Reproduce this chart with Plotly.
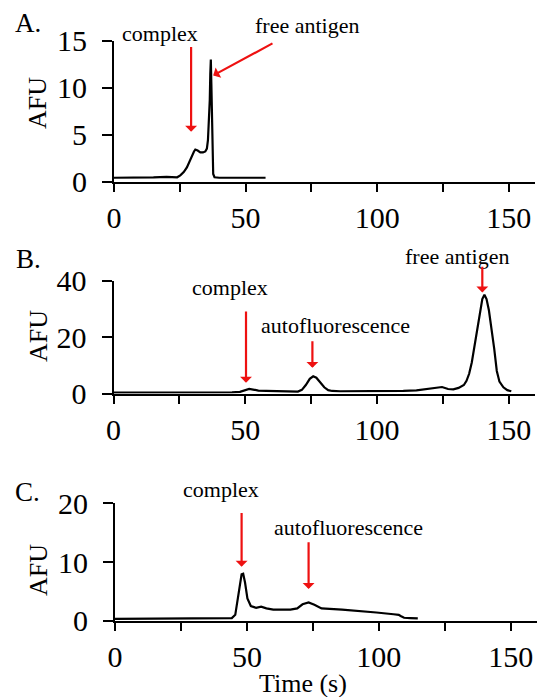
import plotly.graph_objects as go

# ---- Electropherogram traces (time in s, fluorescence in AFU) ----
time_a = [0, 5, 10, 15, 20, 22, 24, 25.2, 26.5, 27.7, 28.7, 29.6, 30.4, 30.9, 31.8,
          32.8, 33.8, 34.7, 35.3, 35.7, 36.1, 36.4, 36.6, 36.8, 37.0, 37.2, 37.4,
          37.7, 38.2, 40, 45, 50, 55, 57.6]
afu_a = [0.4, 0.4, 0.45, 0.45, 0.5, 0.45, 0.45, 0.65, 1.0, 1.5, 2.2, 2.8, 3.2, 3.4, 3.3,
         3.1, 3.1, 3.2, 3.5, 4.4, 6.2, 8.7, 11.5, 13.0, 10.4, 7.5, 4.0,
         0.8, 0.45, 0.4, 0.4, 0.4, 0.4, 0.4]

time_b = [0, 10, 20, 30, 40, 45, 48, 50, 51.5, 53, 55, 58, 62, 66, 70, 71.5, 73, 74.5,
          75.8, 77, 78.5, 80, 81.5, 83, 86, 90, 100, 110, 115, 119, 122, 124.7, 127,
          129, 131, 133, 134, 135, 136, 137, 138, 139, 140, 140.8, 141.6, 142.5, 143.5,
          144.5, 145.5, 146.5, 148, 149.5, 151]
afu_b = [0.3, 0.3, 0.3, 0.3, 0.35, 0.4, 0.6, 1.2, 1.6, 1.4, 1.0, 0.9, 0.8, 0.6, 0.7, 1.3, 3.0, 5.2,
         6.1, 5.6, 4.0, 2.2, 1.2, 0.9, 0.8, 0.8, 0.8, 0.9, 1.1, 1.6, 2.0, 2.3, 1.6,
         1.5, 2.0, 3.0, 4.5, 7.0, 11.0, 16.5, 23.0, 29.0, 33.5, 35.0, 33.5, 29.5, 23.0,
         16.0, 8.0, 4.2, 2.2, 1.2, 0.8]

time_c = [0, 10, 20, 30, 40, 44.3, 45.6, 46.5, 47.3, 48.0, 48.6, 49.3, 50.2, 51.5, 53.5,
          55.4, 57.4, 60, 66.5, 69.1, 71.1, 73.4, 75.6, 78.3, 86.1, 92.6, 99.1, 105.6,
          107.6, 108.3, 109.6, 112, 114.8]
afu_c = [0.3, 0.35, 0.35, 0.35, 0.4, 0.45, 1.0, 3.5, 6.5, 7.9, 8.0, 6.5, 3.8, 2.5, 2.2,
         2.4, 2.1, 1.9, 1.9, 2.1, 2.8, 3.1, 2.7, 2.1, 1.9, 1.7, 1.4, 1.1,
         1.0, 0.8, 0.5, 0.45, 0.4]

# ---- Axis ticks ----
x_ticks = [0, 50, 100, 150]
x_tick_text = ["0", "50", "100", "150"]
y_ticks_a = [0, 5, 10, 15]
y_ticks_b = [0, 20, 40]
y_ticks_c = [0, 10, 20]

# ---- Peak markers: (time, head AFU, tail AFU) ----
arrows_a = [(29.3, 5.3, 14.5)]
free_arrow_a = (37.7, 11.3, 60.8, 14.8)  # head x, head y, tail x, tail y
arrows_b = [(50.3, 3.8, 29.6), (75.5, 9.1, 19.1), (140.0, 35.8, 45.5)]
arrows_c = [(48.0, 9.2, 18.6), (73.4, 5.4, 13.6)]

W, H = 539, 697
SERIF = "Liberation Serif"
RED = "#ee1111"


def px_x(p):
    return p / W


def px_y(p):
    return 1 - p / H


fig = go.Figure()
for t, v, n in [(time_a, afu_a, ""), (time_b, afu_b, "2"), (time_c, afu_c, "3")]:
    fig.add_trace(go.Scatter(x=t, y=v, mode="lines", xaxis="x" + n, yaxis="y" + n,
                             line=dict(color="black", width=2.2), hoverinfo="skip"))

panels = {
    "": dict(xd=(114, 535), yd=(181.5, 40.7), yr=[0, 15], yt=y_ticks_a),
    "2": dict(xd=(113.5, 535), yd=(393.5, 280.7), yr=[0, 40], yt=y_ticks_b),
    "3": dict(xd=(115, 537), yd=(620.7, 503.3), yr=[0, 20], yt=y_ticks_c),
}

tickfont = dict(family=SERIF, size=30, color="black")
layout_axes = {}
for n, p in panels.items():
    layout_axes["xaxis" + n] = dict(
        domain=[px_x(p["xd"][0]), px_x(p["xd"][1])], range=[0, 160],
        anchor="y" + n, showline=True, linewidth=2, linecolor="black",
        ticks="outside", ticklen=8, tickwidth=2, tickcolor="black",
        tickvals=x_ticks, ticktext=x_tick_text, tickfont=tickfont,
        minor=dict(dtick=25, tick0=0, ticks="outside", ticklen=8, tickwidth=2,
                   tickcolor="black", showgrid=False),
        showgrid=False, zeroline=False, fixedrange=True, automargin=False,
    )
    layout_axes["yaxis" + n] = dict(
        domain=[px_y(p["yd"][0]), px_y(p["yd"][1])], range=p["yr"],
        anchor="x" + n, showline=True, linewidth=2, linecolor="black",
        ticks="outside", ticklen=10, tickwidth=2, tickcolor="black",
        tickvals=p["yt"], tickfont=tickfont, ticklabelstandoff=9,
        showgrid=False, zeroline=False, fixedrange=True, automargin=False,
    )

ann = []


def label(text, x, y, size=22, angle=0):
    ann.append(dict(text=text, x=px_x(x), y=px_y(y), xref="paper", yref="paper",
                    xanchor="center", yanchor="middle", showarrow=False,
                    textangle=angle, font=dict(family=SERIF, size=size, color="black")))


def arrow(n, x, y, ax, ay):
    ann.append(dict(text="", x=x, y=y, ax=ax, ay=ay, xref="x" + n, yref="y" + n,
                    axref="x" + n, ayref="y" + n, showarrow=True, arrowhead=1,
                    arrowsize=0.9, arrowwidth=2.2, arrowcolor=RED, standoff=0))


# panel letters
label("A.", 28, 23, size=27)
label("B.", 28, 259, size=27)
label("C.", 27, 492, size=27)
# axis titles
for yc in (103, 336, 570):
    label("AFU", 38, yc, size=26, angle=-90)
label("Time (s)", 303, 683, size=26)

# peak labels
label("complex", 160, 33)
label("free antigen", 306.7, 25)
label("complex", 229.5, 287.5)
label("autofluorescence", 335.3, 325.5)
label("free antigen", 457.4, 256)
label("complex", 221.1, 489)
label("autofluorescence", 348.4, 527)

for x, y, ay in arrows_a:
    arrow("", x, y, x, ay)
hx, hy, tx, ty = free_arrow_a
arrow("", hx, hy, tx, ty)
for x, y, ay in arrows_b:
    arrow("2", x, y, x, ay)
for x, y, ay in arrows_c:
    arrow("3", x, y, x, ay)

fig.update_layout(
    template="none",
    width=W, height=H, margin=dict(l=0, r=0, t=0, b=0, pad=0),
    paper_bgcolor="white", plot_bgcolor="white", showlegend=False,
    font=dict(family=SERIF, color="black"),
    annotations=ann, **layout_axes,
)

fig.write_html("out.html")
